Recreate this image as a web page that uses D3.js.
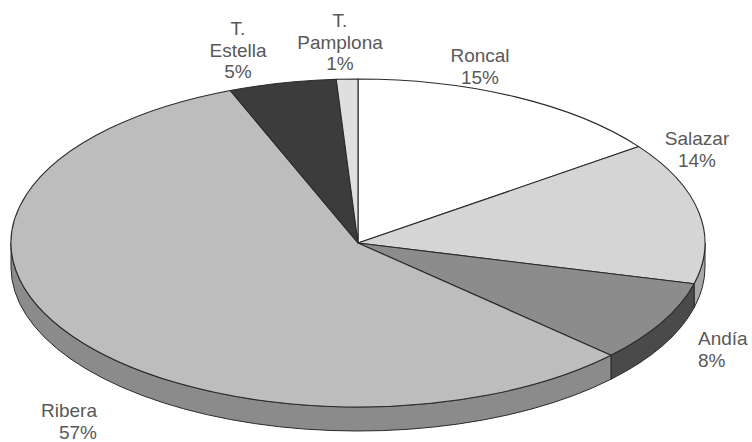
<!DOCTYPE html>
<html><head><meta charset="utf-8">
<script src="https://cdn.jsdelivr.net/npm/d3@7"></script>
<style>body{margin:0;background:#fff}</style>
</head><body><svg id="c" width="752" height="442"></svg>
<script>
// ---- data ----
const categories = ["Roncal", "Salazar", "Andía", "Ribera", "T. Estella", "T. Pamplona"];
const shares = [15, 14, 8, 57, 5, 1];
const nameLines = [["Roncal"], ["Salazar"], ["Andía"], ["Ribera"], ["T.", "Estella"], ["T.", "Pamplona"]];

// ---- styles / layout ----
const topColors  = ["#ffffff", "#d5d5d5", "#8c8c8c", "#bdbdbd", "#3c3c3c", "#dfdfdf"];
const sideColors = ["#d0d0d0", "#a8a8a8", "#4a4a4a", "#8b8b8b", "#262626", "#b0b0b0"];
const labelAnchor = [
  {x: 480, y: 62, a: "middle"},
  {x: 697, y: 145, a: "middle"},
  {x: 698, y: 345, a: "start"},
  {x: 97,  y: 417, a: "end"},
  {x: 238, y: 35, a: "middle"},
  {x: 340, y: 27, a: "middle"}
];

const cx = 358, cy = 243, rx = 347, ry = 164, depth = 24;
const svg = d3.select("#c");
const arcs = d3.pie().sort(null).value(d => d)(shares);

const pt = (a, dy = 0) => [cx + rx * Math.sin(a), cy - ry * Math.cos(a) + dy];
const arcTo = (a0, a1, dy, sweep) => {
  const p = pt(a1, dy);
  const large = Math.abs(a1 - a0) > Math.PI ? 1 : 0;
  return `A${rx},${ry} 0 ${large} ${sweep} ${p[0]},${p[1]}`;
};

// side walls (visible front half)
const g = svg.append("g");
arcs.forEach((d, i) => {
  const s = Math.max(d.startAngle, Math.PI / 2), e = Math.min(d.endAngle, 3 * Math.PI / 2);
  if (e <= s) return;
  const p0 = pt(s), p1b = pt(e, depth);
  const path = `M${p0[0]},${p0[1]} ${arcTo(s, e, 0, 1)} L${p1b[0]},${p1b[1]} ${arcTo(e, s, depth, 0)} Z`;
  g.append("path").attr("d", path).attr("fill", sideColors[i])
    .attr("stroke", "#2a2a2a").attr("stroke-width", 1).attr("stroke-linejoin", "round");
});

// top faces
arcs.forEach((d, i) => {
  const p0 = pt(d.startAngle);
  const path = `M${cx},${cy} L${p0[0]},${p0[1]} ${arcTo(d.startAngle, d.endAngle, 0, 1)} Z`;
  g.append("path").attr("d", path).attr("fill", topColors[i])
    .attr("stroke", "#2a2a2a").attr("stroke-width", 1.1).attr("stroke-linejoin", "round");
});

// labels
const lbl = svg.append("g")
  .attr("font-family", "'Liberation Sans', Arial, Helvetica, sans-serif")
  .attr("font-size", 19).attr("fill", "#595959");
arcs.forEach((d, i) => {
  const A = labelAnchor[i];
  const lines = nameLines[i].concat([shares[i] + "%"]);
  const t = lbl.append("text").attr("text-anchor", A.a);
  lines.forEach((s, k) => t.append("tspan").attr("x", A.x).attr("y", A.y + k * 21.5).text(s));
});
</script></body></html>
